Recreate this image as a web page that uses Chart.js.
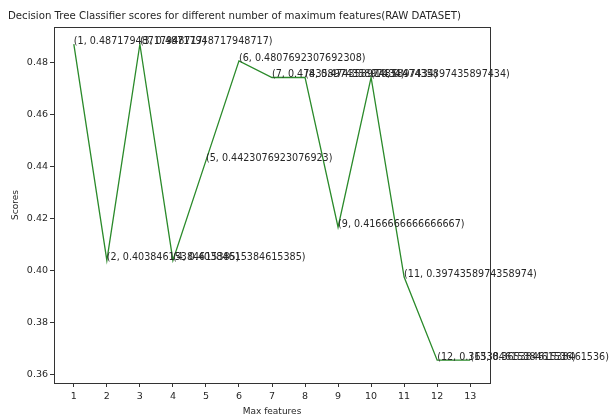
<!DOCTYPE html>
<html>
<head>
<meta charset="utf-8">
<script src="https://cdn.jsdelivr.net/npm/chart.js@4/dist/chart.umd.min.js"></script>
<style>
  html, body { margin: 0; padding: 0; background: #fff; }
  #wrap { width: 610px; height: 418px; }
</style>
</head>
<body>
<div id="wrap"><canvas id="c" width="610" height="418"></canvas></div>
<script>
const TITLE = "Decision Tree Classifier scores for different number of maximum features(RAW DATASET)";
const X_LABEL = "Max features";
const Y_LABEL = "Scores";
const MAX_FEATURES = [1, 2, 3, 4, 5, 6, 7, 8, 9, 10, 11, 12, 13];
const SCORES = [0.48717948717948717, 0.40384615384615385, 0.48717948717948717, 0.40384615384615385,
                0.4423076923076923, 0.4807692307692308, 0.47435897435897434, 0.47435897435897434,
                0.4166666666666667, 0.47435897435897434, 0.3974358974358974, 0.36538461538461536,
                0.36538461538461536];
const X_TICKS = [1, 2, 3, 4, 5, 6, 7, 8, 9, 10, 11, 12, 13];
const Y_TICKS = [0.36, 0.38, 0.40, 0.42, 0.44, 0.46, 0.48];

const FONT = "'DejaVu Sans', sans-serif";
const TXT = '#262626';

const framePlugin = {
  id: 'frame',
  afterDraw(chart) {
    const a = chart.chartArea, ctx = chart.ctx;
    ctx.save();
    ctx.strokeStyle = '#333';
    ctx.lineWidth = 1;
    ctx.strokeRect(Math.round(a.left) + 0.5, Math.round(a.top) + 0.5,
                   Math.round(a.right - a.left), Math.round(a.bottom - a.top));
    ctx.restore();
  }
};

const annotatePlugin = {
  id: 'annotate',
  afterDatasetsDraw(chart) {
    const ctx = chart.ctx;
    const meta = chart.getDatasetMeta(0);
    ctx.save();
    ctx.font = "9.6px " + FONT;
    ctx.fillStyle = TXT;
    ctx.textAlign = 'left';
    ctx.textBaseline = 'alphabetic';
    meta.data.forEach((pt, i) => {
      const label = '(' + MAX_FEATURES[i] + ', ' + String(SCORES[i]) + ')';
      ctx.fillText(label, pt.x, pt.y);
    });
    ctx.restore();
  }
};

new Chart(document.getElementById('c'), {
  type: 'line',
  data: {
    datasets: [{
      data: MAX_FEATURES.map((x, i) => ({ x: x, y: SCORES[i] })),
      borderColor: '#2a8a2a',
      borderWidth: 1.3,
      pointRadius: 0,
      tension: 0,
      fill: false
    }]
  },
  options: {
    responsive: false,
    animation: false,
    devicePixelRatio: 1,
    layout: { padding: { left: 8, right: 120, top: 0, bottom: 0 } },
    plugins: {
      legend: { display: false },
      tooltip: { enabled: false },
      title: {
        display: true,
        text: TITLE,
        align: 'start',
        color: TXT,
        font: { family: FONT, size: 10.2, weight: 'normal', lineHeight: 1.2 },
        padding: { top: 10, bottom: 4.8 }
      }
    },
    scales: {
      x: {
        type: 'linear',
        min: 0.4,
        max: 13.6,
        afterBuildTicks(scale) { scale.ticks = X_TICKS.map(v => ({ value: v })); },
        afterFit(scale) { scale.height = 35; },
        ticks: {
          color: TXT,
          font: { family: FONT, size: 9.5 },
          padding: 4,
          maxRotation: 0,
          autoSkip: false,
          callback: (v) => String(v)
        },
        grid: { display: true, drawOnChartArea: false, drawTicks: true, tickLength: 4, color: '#333' },
        border: { display: true, color: '#333' },
        title: {
          display: true,
          text: X_LABEL,
          color: TXT,
          font: { family: FONT, size: 9, lineHeight: 1.2 },
          padding: { top: 0, bottom: 0.5 }
        }
      },
      y: {
        type: 'linear',
        min: 0.3566,
        max: 0.4938,
        afterBuildTicks(scale) { scale.ticks = Y_TICKS.map(v => ({ value: v })); },
        afterFit(scale) { scale.width = 46; },
        ticks: {
          color: TXT,
          font: { family: FONT, size: 9.5 },
          padding: 2,
          autoSkip: false,
          callback: (v) => Number(v).toFixed(2)
        },
        grid: { display: true, drawOnChartArea: false, drawTicks: true, tickLength: 4, color: '#333' },
        border: { display: true, color: '#333' },
        title: {
          display: true,
          text: Y_LABEL,
          color: TXT,
          font: { family: FONT, size: 9, lineHeight: 1.2 },
          padding: { top: 2.5, bottom: 0 }
        }
      }
    }
  },
  plugins: [framePlugin, annotatePlugin]
});
</script>
</body>
</html>
